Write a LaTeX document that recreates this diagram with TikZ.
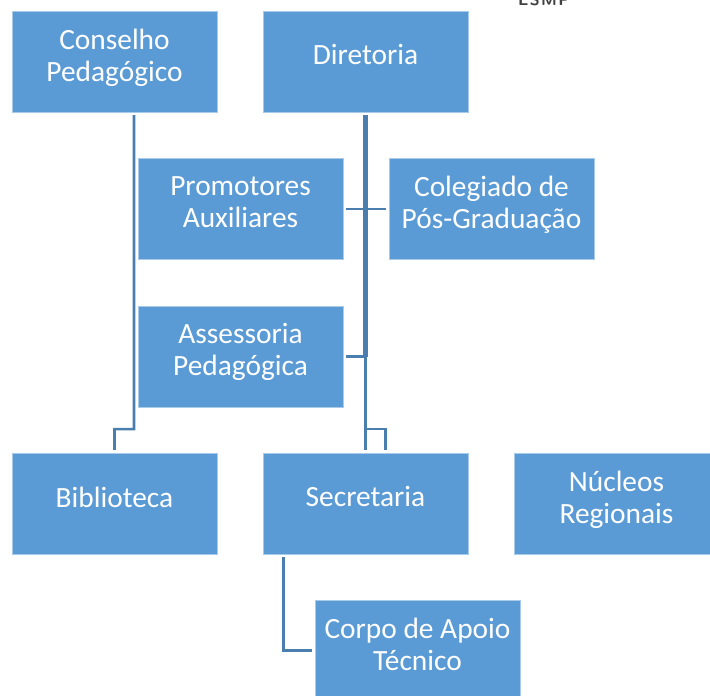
\documentclass[tikz,border=0pt]{standalone}
\usepackage{fontspec}
\setmainfont{Carlito}
\usepackage{xcolor}
\usetikzlibrary{
    positioning,
    calc
}
\definecolor{boxblue}{HTML}{5B9BD5}
\definecolor{boxedge}{HTML}{A9CBEA}
\definecolor{linkblue}{HTML}{4A7EAE}

\begin{document}
\begin{tikzpicture}[
                x=0.025cm, y=-0.025cm,
                block/.style={draw=boxedge, line width=0.4pt, fill=boxblue, text=white, minimum width=5.125cm, minimum height=2.525cm, outer sep=0.075cm, align=center, font=\fontsize{20.9}{22.75}\selectfont, text depth=9.5pt},
                link/.style={draw=linkblue, line width=1.8pt},
                mainlink/.style={draw=linkblue, line width=3pt}
            ]
                \clip (0, 0) rectangle (710, 696);

                % Logo cut by the top edge
                \node[font=\sffamily\bfseries\fontsize{11.5}{12}\selectfont, text=black!75, anchor=base] (logo) at (544, 6) {E\kern1pt S\kern1pt M\kern1pt P};

                % Top row
                \node[block] (conselho) at (114.5, 61.5) {Conselho\\Pedagógico};
                \node[block] (diretoria) at (365.5, 61.5) {Diretoria};

                % Staff boxes
                \node[block] (promotores) at (240.5, 209) {Promotores\\Auxiliares};
                \node[block] (colegiado) at (491.5, 209) {Colegiado de\\Pós-Graduação};
                \node[block] (assessoria) at (240.5, 356.5) {Assessoria\\Pedagógica};

                % Bottom row
                \node[block] (biblioteca) at (114.5, 503.5) {Biblioteca};
                \node[block] (secretaria) at (365.5, 503.5) {Secretaria};
                \node[block] (nucleos) at (616.5, 503.5) {Núcleos\\Regionais};
                \node[block] (corpo) at (417.5, 650.5) {Corpo de Apoio\\Técnico};

                % Connectors
                \coordinate (bibliotecaturn) at ($(conselho.south)+(19.5, 314)$);
                \draw[link] ([xshift=0.4875cm]conselho.south) -- (bibliotecaturn) -| (biblioteca.north);
                \draw[mainlink] (diretoria.south) -- (diretoria.south |- assessoria.east);
                \draw[link] (diretoria.south |- assessoria.east) -- (secretaria.north);
                \draw[link] (promotores.east) -- (colegiado.west);
                \draw[link] (assessoria.east) -- (diretoria.south |- assessoria.east);
                \coordinate (secretariaturn) at ($(secretaria.north)+(0, -21)$);
                \draw[link] (secretariaturn) -- ++(20, 0) -- ++(0, 21);
                \coordinate (corpoturn) at ($(secretaria.south)+(-82, 0)$);
                \draw[link] (corpoturn) |- (corpo.west);
            \end{tikzpicture}
\end{document}
